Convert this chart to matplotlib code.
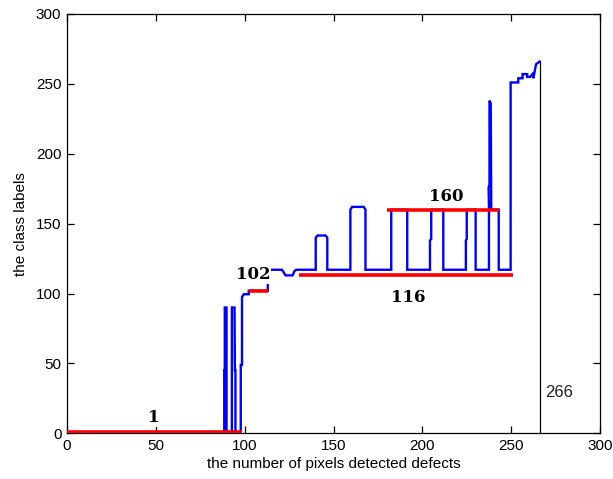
import matplotlib
matplotlib.use("Agg")
import matplotlib.pyplot as plt

# Blue step curve (class label vs number of defect pixels)
blue_x = [0, 88.5, 88.5, 88.8, 88.8, 89.8, 89.8, 92.8, 92.8, 94.3, 94.5, 94.8, 94.8,
          97.8, 97.8, 98.5, 98.5, 99.5, 102.3, 102.3, 113, 113, 121, 122, 123, 127,
          128, 129, 140, 140, 141, 145.5, 146.5, 146.5, 159.5, 159.5, 160.5, 167,
          168, 168, 182.5, 182.5, 191.5, 191.5, 204.3, 204.3, 205, 205, 211.8, 211.8,
          224.5, 224.5, 225, 225, 230, 230, 237.5, 237.5, 237.3, 237.8, 237.8, 238.5,
          238.8, 243, 243, 249.7, 249.7, 254, 254, 256.4, 256.4, 259, 259, 260.7,
          262, 262.5, 264, 266]
blue_y = [0, 0, 45, 45, 90, 90, 0, 0, 90, 90, 45, 45, 0,
          0, 49, 49, 97.5, 99.5, 99.5, 102, 102, 117, 117, 115, 113, 113,
          116, 117, 117, 140, 141.5, 141.5, 140, 117, 117, 160, 162, 162,
          160, 117, 117, 160, 160, 117, 117, 138, 139, 160, 160, 117,
          117, 138, 139, 160, 160, 117, 117, 160, 176, 178, 238, 236,
          160, 160, 117, 117, 251, 251, 254, 254, 257, 257, 255, 255,
          257, 254, 264, 266]

# Red reference segments and their labels
red_levels = [1, 102, 113, 160]
red_starts = [0, 102.2, 130.5, 180.3]
red_ends = [98.5, 113.3, 251, 243.2]
red_labels = ["1", "102", "116", "160"]
label_x = [48.7, 104.8, 191.9, 213.2]
label_y = [11.3, 113.6, 97, 169.7]

# Final count marker
final_count = 266

x_ticks = [0, 50, 100, 150, 200, 250, 300]
y_ticks = [0, 50, 100, 150, 200, 250, 300]

plt.rcParams['font.family'] = ['Liberation Sans', 'DejaVu Sans']

fig = plt.figure(figsize=(6.13, 4.79), dpi=100)
ax = fig.add_axes([0.1093, 0.0954, 0.8695, 0.8754])

ax.plot(blue_x, blue_y, color='#0000ff', lw=1.7, solid_joinstyle='miter', zorder=2)
for lv, s, e in zip(red_levels, red_starts, red_ends):
    ax.plot([s, e], [lv, lv], color='#ff0000', lw=2.6, solid_capstyle='butt', zorder=3)
for t, tx, ty in zip(red_labels, label_x, label_y):
    ax.text(tx, ty, t, ha='center', va='center', fontsize=12, fontweight='bold',
            family=['DejaVu Serif'], color='black', zorder=4,
            bbox=dict(facecolor='white', edgecolor='none', pad=0.5))

ax.plot([final_count, final_count], [0, final_count], color='black', lw=0.9, zorder=2)
ax.text(final_count + 3, 29, str(final_count), ha='left', va='center', fontsize=12,
        color='#222222')

ax.set_xlim(0, 300)
ax.set_ylim(0, 300)
ax.set_xticks(x_ticks)
ax.set_yticks(y_ticks)
ax.tick_params(direction='in', length=5, width=0.9, top=True, right=True,
               labelsize=11, pad=4)
for sp in ax.spines.values():
    sp.set_linewidth(0.9)
ax.set_xlabel('the number of pixels detected defects', fontsize=11, labelpad=3)
ax.set_ylabel('the class labels', fontsize=11, labelpad=6)

fig.savefig('out.png', dpi=100)
